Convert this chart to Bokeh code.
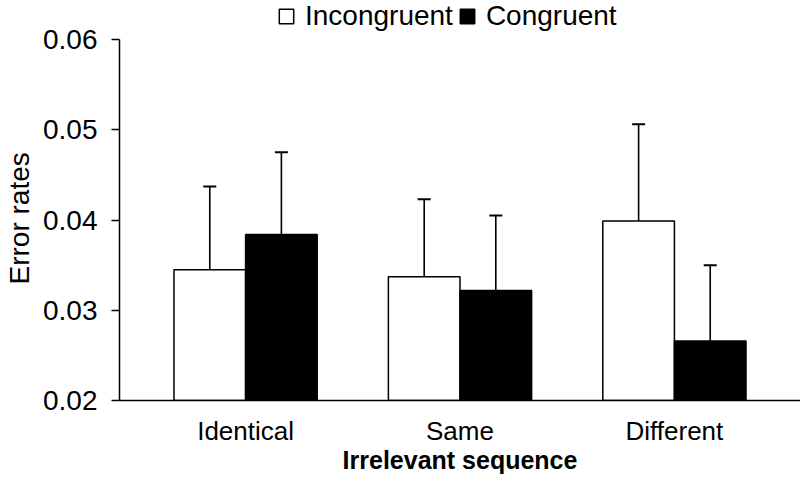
from bokeh.plotting import figure
from bokeh.models import (ColumnDataSource, FactorRange, Range1d, FixedTicker,
                          PrintfTickFormatter, Legend, LegendItem, Title)
from bokeh.transform import dodge
from bokeh.embed import file_html
from bokeh.resources import INLINE

# ---- data ----
categories = ["Identical", "Same", "Different"]
incongruent = [0.0345, 0.0337, 0.0399]
congruent = [0.0384, 0.0322, 0.0266]
incongruent_err = [0.0092, 0.0086, 0.0107]
congruent_err = [0.0091, 0.0083, 0.0084]
y_ticks = [0.02, 0.03, 0.04, 0.05, 0.06]
series_names = ["Incongruent", "Congruent"]

FONT = "Liberation Sans"
BAR_W = 0.334
OFF = BAR_W / 2
# frame spans the full height above the x axis; the axis itself is bounded to
# the tick range, leaving 39px of headroom above 0.06 for the legend
PLOT_PX, HEAD_PX = 361, 39
y_top = y_ticks[-1] + (y_ticks[-1] - y_ticks[0]) * HEAD_PX / PLOT_PX

src = ColumnDataSource(dict(
    cat=categories,
    inc=incongruent,
    con=congruent,
    inc_top=[m + e for m, e in zip(incongruent, incongruent_err)],
    con_top=[m + e for m, e in zip(congruent, congruent_err)],
))

p = figure(width=800, height=483, output_backend="svg", toolbar_location=None,
           x_range=FactorRange(*categories, range_padding=0.0587),
           y_range=Range1d(y_ticks[0], y_top),
           min_border_left=118, min_border_right=0,
           min_border_top=0, min_border_bottom=83)
p.outline_line_color = None
p.xgrid.grid_line_color = None
p.ygrid.grid_line_color = None
p.background_fill_color = "white"
p.border_fill_color = "white"

# error bars (upward only)
for col, top, off in (("inc", "inc_top", -OFF), ("con", "con_top", OFF)):
    xs = dodge("cat", off, range=p.x_range)
    p.segment(x0=xs, y0=col, x1=xs, y1=top, source=src,
              line_color="black", line_width=1.6)
    p.scatter(x=xs, y=top, source=src, marker="dash", size=13,
              line_color="black", line_width=2)

r_inc = p.vbar(x=dodge("cat", -OFF, range=p.x_range), top="inc", bottom=y_ticks[0],
               width=BAR_W, source=src, fill_color="white",
               line_color="black", line_width=1.5)
r_con = p.vbar(x=dodge("cat", OFF, range=p.x_range), top="con", bottom=y_ticks[0],
               width=BAR_W, source=src, fill_color="black",
               line_color="black", line_width=1.5)

# y axis
p.yaxis.bounds = (y_ticks[0], y_ticks[-1])
p.yaxis.ticker = FixedTicker(ticks=y_ticks)
p.yaxis.formatter = PrintfTickFormatter(format="%.2f")
p.yaxis.minor_tick_line_color = None
p.yaxis.major_tick_out = 8
p.yaxis.major_tick_in = 0
p.yaxis.major_tick_line_width = 1.5
p.yaxis.axis_line_width = 1.5
p.yaxis.axis_line_color = "black"
p.yaxis.major_tick_line_color = "black"
p.yaxis.major_label_text_font = FONT
p.yaxis.major_label_text_font_size = "28px"
p.yaxis.major_label_text_color = "black"
p.yaxis.major_label_standoff = 14

ytitle = Title(text="Error rates", align="left", offset=116,
               vertical_align="top", standoff=7,
               text_font=FONT, text_font_size="28px",
               text_font_style="normal", text_color="black")
p.add_layout(ytitle, "left")

# x axis
p.xaxis.major_tick_line_color = None
p.xaxis.major_tick_out = 0
p.xaxis.major_tick_in = 0
p.xaxis.axis_line_width = 1.5
p.xaxis.axis_line_color = "black"
p.xaxis.major_label_text_font = FONT
p.xaxis.major_label_text_font_size = "26px"
p.xaxis.major_label_text_color = "black"
p.xaxis.major_label_standoff = 15
p.xaxis.axis_label = "Irrelevant sequence"
p.xaxis.axis_label_text_font = FONT
p.xaxis.axis_label_text_font_size = "25px"
p.xaxis.axis_label_text_font_style = "bold"
p.xaxis.axis_label_text_color = "black"
p.xaxis.axis_label_standoff = -3

legend = Legend(items=[LegendItem(label=series_names[0], renderers=[r_inc]),
                       LegendItem(label=series_names[1], renderers=[r_con])],
                orientation="horizontal", location=(158, 368),
                padding=0, margin=0, spacing=5, label_standoff=10,
                glyph_width=18, glyph_height=18,
                border_line_color=None, background_fill_alpha=0,
                label_text_font=FONT, label_text_font_size="28px",
                label_text_color="black")
p.add_layout(legend, "center")

open("out.html", "w").write(file_html(p, INLINE))
